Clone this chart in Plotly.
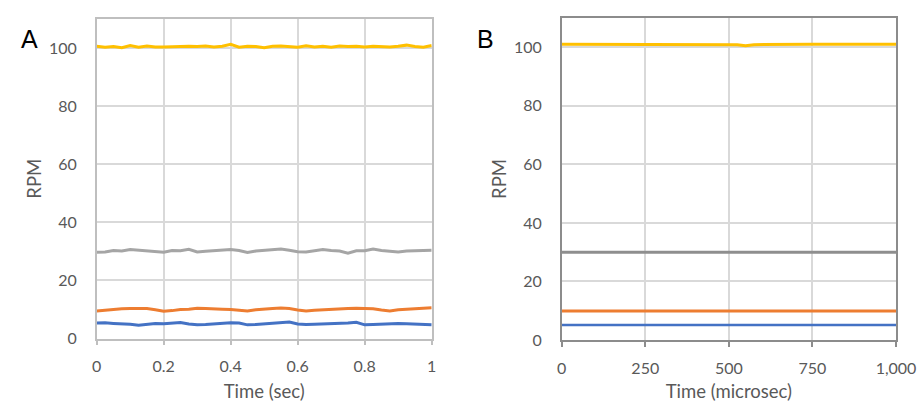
import plotly.graph_objects as go

# Panel A: rotation speed sampled over one second
t_sec = [i * 0.025 for i in range(41)]
rpm100_a = [100.6, 100.3, 100.5, 100.1, 100.9, 100.3, 100.7, 100.4, 100.4, 100.5,
            100.4, 100.6, 100.5, 100.7, 100.4, 100.6, 101.3, 100.3, 100.6, 100.5,
            100.1, 100.6, 100.7, 100.4, 100.3, 100.8, 100.4, 100.6, 100.3, 100.7,
            100.5, 100.6, 100.4, 100.6, 100.5, 100.4, 100.6, 101.0, 100.5, 100.3, 100.9]
rpm30_a = [29.7, 29.8, 30.3, 30.1, 30.6, 30.4, 30.2, 29.9, 29.7, 30.3,
           30.2, 30.7, 29.8, 30.0, 30.2, 30.5, 30.6, 30.3, 29.6, 30.1,
           30.3, 30.5, 30.8, 30.4, 29.9, 29.8, 30.1, 30.6, 30.3, 30.1,
           29.4, 30.2, 30.2, 30.8, 30.3, 30.0, 29.8, 30.1, 30.2, 30.4, 30.4]
rpm10_a = [9.5, 9.8, 10.0, 10.2, 10.3, 10.2, 10.3, 9.9, 9.4, 9.6,
           10.0, 10.1, 10.4, 10.3, 10.3, 10.1, 10.0, 9.7, 9.5, 9.9,
           10.2, 10.3, 10.5, 10.3, 9.8, 9.5, 9.7, 9.9, 10.0, 10.1,
           10.3, 10.4, 10.3, 10.2, 9.8, 9.5, 9.9, 10.1, 10.3, 10.4, 10.6]
rpm5_a = [5.3, 5.4, 5.2, 5.1, 4.9, 4.6, 4.8, 5.2, 5.1, 5.3,
          5.5, 5.0, 4.7, 4.8, 5.0, 5.2, 5.4, 5.3, 4.7, 4.8,
          5.0, 5.1, 5.3, 5.7, 5.0, 4.8, 4.9, 5.0, 5.1, 5.0,
          5.3, 5.6, 4.7, 4.8, 5.0, 5.1, 5.2, 5.1, 5.0, 4.8, 4.7]

# Panel B: rotation speed over one millisecond
t_us = [0, 250, 500, 525, 550, 575, 750, 1000]
rpm100_b = [101.0, 101.0, 101.0, 100.9, 100.5, 100.9, 101.0, 101.0]
rpm30_b = [30.0, 30.0, 30.0, 30.0, 30.0, 30.0, 30.0, 30.0]
rpm10_b = [9.9, 9.9, 9.9, 9.9, 9.9, 9.9, 9.9, 9.9]
rpm5_b = [5.1, 5.1, 5.1, 5.1, 5.1, 5.1, 5.1, 5.1]

yticks = [0, 20, 40, 60, 80, 100]
xticks_a = [0, 0.2, 0.4, 0.6, 0.8, 1]
xticks_b = [0, 250, 500, 750, 1000]

YELLOW = "#FFC000"
GRAY = "#A5A5A5"
ORANGE = "#ED7D31"
BLUE = "#4472C4"
TXT = "#595959"
FONT = "Lato, 'Open Sans', sans-serif"

fig = go.Figure()

def add(x, y, color, xa, ya, width=3.0):
    fig.add_trace(go.Scatter(x=x, y=y, mode="lines", xaxis=xa, yaxis=ya,
                             line=dict(color=color, width=width),
                             showlegend=False, hoverinfo="skip"))

add(t_sec, rpm5_a, BLUE, "x", "y")
add(t_sec, rpm10_a, ORANGE, "x", "y")
add(t_sec, rpm30_a, GRAY, "x", "y")
add(t_sec, rpm100_a, YELLOW, "x", "y")

add(t_us, rpm5_b, BLUE, "x2", "y2", 2.6)
add(t_us, rpm10_b, ORANGE, "x2", "y2", 2.8)
add(t_us, rpm30_b, "#8E8E8E", "x2", "y2", 3.0)
add(t_us, rpm100_b, YELLOW, "x2", "y2", 3.0)

W, H = 920, 402

def xdom(l, r):
    return [l / W, r / W]

def ydom(top, bot):
    return [1 - bot / H, 1 - top / H]

tickfont = dict(family=FONT, size=16, color=TXT)
titlefont = dict(family=FONT, size=18.5, color=TXT)

def xaxis(dom, rng, ticks, title, anchor, border):
    return dict(domain=dom, range=rng, tickvals=ticks, anchor=anchor,
                tickformat=",", showgrid=True, gridcolor="#D9D9D9", gridwidth=1.5,
                zeroline=False, showline=True, linecolor=border, linewidth=1.5,
                mirror=True, ticks="outside", ticklen=5, tickcolor=border,
                tickwidth=1.5, ticklabelstandoff=8, tickfont=tickfont,
                title=dict(text=title, font=titlefont, standoff=12),
                automargin=False, fixedrange=True)

def yaxis(dom, anchor, border):
    return dict(domain=dom, range=[0, 110], tickvals=yticks, anchor=anchor,
                showgrid=True, gridcolor="#D9D9D9", gridwidth=1.5,
                zeroline=False, showline=True, linecolor=border, linewidth=1.5,
                mirror=True, ticks="", ticklabelstandoff=15, tickfont=tickfont,
                title=dict(text="RPM", font=titlefont, standoff=2),
                automargin=False, fixedrange=True)

fig.update_layout(
    width=W, height=H,
    margin=dict(l=0, r=0, t=0, b=0, autoexpand=False),
    paper_bgcolor="white", plot_bgcolor="white",
    xaxis=xaxis(xdom(96.7, 431.7), [0, 1], xticks_a, "Time (sec)", "y", "#BFBFBF"),
    yaxis=yaxis(ydom(19, 338.5), "x", "#BFBFBF"),
    xaxis2=xaxis(xdom(561.7, 896), [0, 1000], xticks_b, "Time (microsec)", "y2", "#8C8C8C"),
    yaxis2=yaxis(ydom(18, 340), "x2", "#8C8C8C"),
    annotations=[
        dict(text="A", x=19 / W, y=1 - 23 / H, xref="paper", yref="paper",
             showarrow=False, font=dict(family="Liberation Sans, Arial", size=25, color="black")),
        dict(text="B", x=486 / W, y=1 - 23 / H, xref="paper", yref="paper",
             showarrow=False, font=dict(family="Liberation Sans, Arial", size=25, color="black")),
    ],
)

fig.write_html("out.html")
